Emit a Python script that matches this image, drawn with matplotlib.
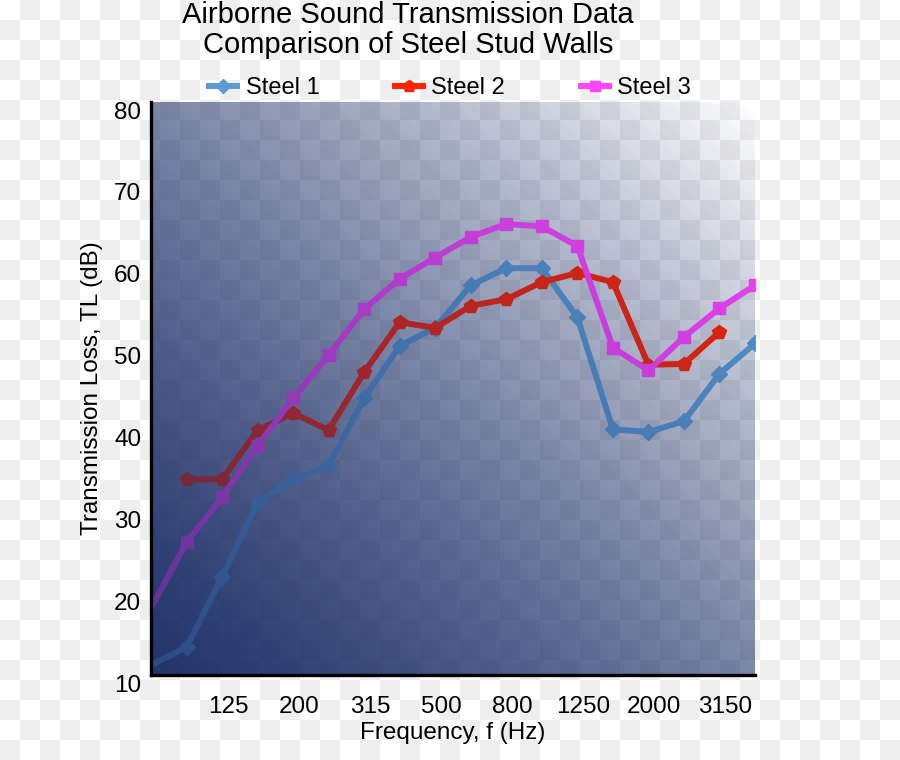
import numpy as np
import matplotlib
matplotlib.use('Agg')
import matplotlib.pyplot as plt
import matplotlib.transforms as mtransforms

plt.rcParams['font.family'] = ['Liberation Sans', 'DejaVu Sans']

# Третьоктавные полосы, Гц
bands = ['80', '100', '125', '160', '200', '250', '315', '400', '500', '630',
         '800', '1000', '1250', '1600', '2000', '2500', '3150', '4000']

# Звукоизоляция TL, дБ
steel1 = [11.2, 13.4, 22.0, 31.0, 33.9, 35.6, 43.8, 50.2, 52.4, 57.6,
          59.7, 59.7, 53.7, 40.0, 39.7, 41.0, 46.8, 50.5]
steel2 = [33.9, 33.9, 39.9, 42.0, 39.9, 47.0, 53.1, 52.4, 55.1, 55.9,
          58.0, 59.1, 58.0, 47.9, 48.0, 51.9]          # от 100 до 3150 Гц
steel3 = [18.2, 26.2, 31.7, 38.0, 43.8, 49.1, 54.7, 58.4, 61.0, 63.5,
          65.1, 64.8, 62.4, 50.0, 47.2, 51.3, 54.8, 57.6]

x_all = np.arange(len(bands))
x2 = x_all[1:1 + len(steel2)]

W, H = 900, 760
fig = plt.figure(figsize=(W / 100, H / 100), dpi=100)

# Фон "шахматка" на всю картинку
bg_ax = fig.add_axes([0, 0, 1, 1], zorder=-10)
yy, xx = np.mgrid[0:H, 0:W]
checker = np.where(((xx // 20 + yy // 20) % 2) == 1, 0.933, 1.0)
bg_ax.imshow(checker, cmap='gray', vmin=0, vmax=1, interpolation='nearest',
             extent=(0, W, H, 0), aspect='auto')
bg_ax.axis('off')

ax = fig.add_axes([151 / W, 85 / H, 604 / W, 573 / H], zorder=1)
ax.set_facecolor('none')

# Диагональный градиент: снизу-слева тёмно-синий, сверху-справа прозрачный
navy = np.array([26, 45, 102]) / 255
n = 300
u = np.linspace(0, 1, n)[None, :]
v = np.linspace(1, 0, n)[:, None]
t = (u + v) / 2
total = 0.96 * (1 - t ** 1.3)
over = 0.74 * (1 - t)
under = np.clip(1 - (1 - total) / (1 - over), 0, 1)

def grad_img(alpha):
    img = np.zeros((n, n, 4))
    img[..., :3] = navy
    img[..., 3] = alpha
    return img

ext = (0, len(bands) - 1, 10, 80)
ax.imshow(grad_img(under), extent=ext, aspect='auto', zorder=0.5, interpolation='bilinear')
ax.imshow(grad_img(over), extent=ext, aspect='auto', zorder=3, interpolation='bilinear')

c1, c2, c3 = '#5b9bd5', '#ff2200', '#ff44ff'
l1, = ax.plot(x_all, steel1, color=c1, lw=4.3, marker='D', ms=8,
              markevery=list(range(1, len(steel1))), zorder=2, label='Steel 1')
l2, = ax.plot(x2, steel2, color=c2, lw=4.3, marker='p', ms=10, zorder=2, label='Steel 2')
l3, = ax.plot(x_all, steel3, color=c3, lw=4.3, marker='s', ms=8.5,
              markevery=list(range(1, len(steel3))), zorder=2, label='Steel 3')

ax.set_xlim(0, len(bands) - 1)
ax.set_ylim(10, 80)
ax.set_xticks(x_all[2::2])
ax.set_xticklabels(bands[2::2])
ax.set_yticks(np.arange(10, 81, 10))
ax.tick_params(axis='both', length=0, labelsize=17.5)
ax.tick_params(axis='x', pad=15)
ax.tick_params(axis='y', pad=7)

for s in ['top', 'right']:
    ax.spines[s].set_visible(False)
for s in ['left', 'bottom']:
    ax.spines[s].set_linewidth(2.4)
    ax.spines[s].set_color('black')
    ax.spines[s].set_zorder(4)

# Подписи в оригинале немного сдвинуты
dx = mtransforms.ScaledTranslation(0.06, 0, fig.dpi_scale_trans)
dy = mtransforms.ScaledTranslation(0, -0.08, fig.dpi_scale_trans)
for lab in ax.get_xticklabels():
    lab.set_transform(lab.get_transform() + dx)
for lab in ax.get_yticklabels():
    lab.set_transform(lab.get_transform() + dy)

ax.set_xlabel('Frequency, f (Hz)', fontsize=17.5, labelpad=3)
ax.set_ylabel('Transmission Loss, TL (dB)', fontsize=17.5, labelpad=8)

fig.suptitle('Airborne Sound Transmission Data\nComparison of Steel Stud Walls',
             x=408 / W, y=1 - 30 / H, va='center', fontsize=21, linespacing=1.12)

ax.legend(handles=[l1, l2, l3], loc='center', bbox_to_anchor=(0.5, 1 - 88 / H),
          bbox_transform=fig.transFigure, ncol=3, frameon=False, fontsize=17,
          handlelength=1.2, columnspacing=3.2, handletextpad=0.35, numpoints=1,
          markerscale=0.9)

fig.savefig('out.png', dpi=100)
